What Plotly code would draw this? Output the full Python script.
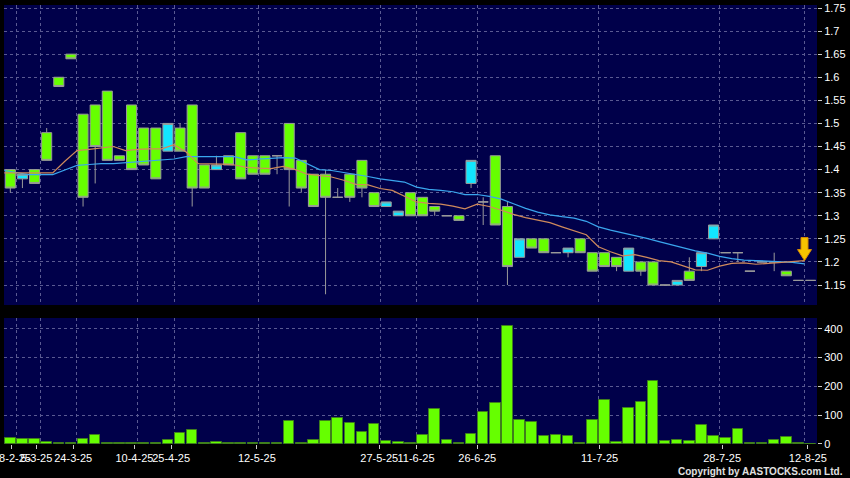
import numpy as np
import plotly.graph_objects as go

# ---------------- data ----------------
opens = [1.40, 1.38, 1.40, 1.48, 1.60, 1.65, 1.52, 1.54, 1.57, 1.43,
         1.54, 1.49, 1.49, 1.44, 1.49, 1.54, 1.41, 1.40, 1.43, 1.48,
         1.43, 1.43, 1.43, 1.50, 1.42, 1.39, 1.39, 1.34, 1.39, 1.42,
         1.35, 1.32, 1.30, 1.35, 1.34, 1.32, 1.30, 1.30, 1.37, 1.33,
         1.43, 1.32, 1.21, 1.25, 1.25, 1.22, 1.22, 1.25, 1.22, 1.22,
         1.21, 1.18, 1.20, 1.20, 1.15, 1.15, 1.18, 1.19, 1.25, 1.22,
         1.22, 1.18, 1.20, 1.20, 1.18, 1.16, 1.16]
highs = [1.40, 1.39, 1.40, 1.49, 1.60, 1.65, 1.52, 1.54, 1.57, 1.43,
         1.54, 1.49, 1.49, 1.50, 1.50, 1.54, 1.41, 1.43, 1.43, 1.48,
         1.43, 1.43, 1.43, 1.50, 1.42, 1.39, 1.40, 1.36, 1.39, 1.42,
         1.35, 1.33, 1.31, 1.35, 1.34, 1.32, 1.30, 1.30, 1.42, 1.34,
         1.43, 1.33, 1.25, 1.25, 1.25, 1.22, 1.23, 1.25, 1.22, 1.22,
         1.21, 1.23, 1.20, 1.20, 1.15, 1.16, 1.21, 1.22, 1.28, 1.22,
         1.22, 1.18, 1.20, 1.22, 1.18, 1.16, 1.16]
lows = [1.35, 1.36, 1.37, 1.42, 1.58, 1.64, 1.32, 1.37, 1.42, 1.42,
        1.40, 1.41, 1.38, 1.44, 1.44, 1.32, 1.36, 1.40, 1.41, 1.38,
        1.39, 1.39, 1.39, 1.32, 1.35, 1.32, 1.13, 1.34, 1.33, 1.34,
        1.32, 1.32, 1.30, 1.30, 1.30, 1.30, 1.30, 1.29, 1.36, 1.28,
        1.28, 1.15, 1.21, 1.23, 1.22, 1.22, 1.21, 1.22, 1.18, 1.19,
        1.18, 1.18, 1.17, 1.15, 1.15, 1.15, 1.16, 1.18, 1.25, 1.22,
        1.20, 1.18, 1.20, 1.18, 1.17, 1.16, 1.16]
closes = [1.36, 1.39, 1.37, 1.42, 1.58, 1.64, 1.34, 1.45, 1.42, 1.42,
          1.40, 1.41, 1.38, 1.50, 1.44, 1.36, 1.36, 1.41, 1.41, 1.38,
          1.39, 1.39, 1.43, 1.40, 1.36, 1.32, 1.34, 1.34, 1.34, 1.36,
          1.32, 1.33, 1.31, 1.30, 1.30, 1.31, 1.30, 1.29, 1.42, 1.33,
          1.28, 1.19, 1.25, 1.23, 1.22, 1.22, 1.23, 1.22, 1.18, 1.19,
          1.19, 1.23, 1.18, 1.15, 1.15, 1.16, 1.16, 1.22, 1.28, 1.22,
          1.22, 1.18, 1.20, 1.20, 1.17, 1.16, 1.16]
volumes = [22, 17, 16, 8, 2, 2, 16, 32, 3, 3,
           3, 5, 3, 14, 39, 47, 3, 8, 3, 5,
           3, 3, 5, 80, 3, 14, 80, 89, 72, 42,
           69, 12, 8, 3, 31, 121, 13, 4, 36, 112,
           141, 410, 82, 77, 27, 30, 28, 5, 82, 154,
           8, 124, 146, 217, 9, 13, 9, 67, 28, 22,
           52, 5, 3, 14, 25, 3, 0]
ma_short = [1.393, 1.393, 1.393, 1.393, 1.393, 1.418, 1.441, 1.444, 1.447, 1.450,
            1.441, 1.444, 1.445, 1.445, 1.454, 1.438, 1.413, 1.413, 1.412, 1.410,
            1.405, 1.403, 1.402, 1.407, 1.400, 1.390, 1.387, 1.384, 1.377, 1.368,
            1.367, 1.359, 1.355, 1.342, 1.330, 1.327, 1.325, 1.321, 1.315, 1.325,
            1.320, 1.312, 1.303, 1.296, 1.290, 1.285, 1.276, 1.267, 1.259, 1.233,
            1.222, 1.213, 1.216, 1.210, 1.203, 1.200, 1.191, 1.183, 1.182, 1.191,
            1.197, 1.198, 1.195, 1.197, 1.199, 1.202, 1.203]
ma_long = [1.398, 1.394, 1.389, 1.389, 1.389, 1.399, 1.409, 1.411, 1.413, 1.413,
           1.415, 1.417, 1.419, 1.421, 1.423, 1.428, 1.428, 1.428, 1.428, 1.428,
           1.421, 1.423, 1.424, 1.426, 1.425, 1.413, 1.400, 1.398, 1.394, 1.389,
           1.385, 1.380, 1.377, 1.373, 1.362, 1.357, 1.355, 1.352, 1.346, 1.346,
           1.342, 1.336, 1.326, 1.316, 1.308, 1.302, 1.298, 1.295, 1.288, 1.276,
           1.269, 1.263, 1.258, 1.251, 1.244, 1.237, 1.230, 1.224, 1.219, 1.212,
           1.207, 1.204, 1.203, 1.202, 1.201, 1.199, 1.196]
tick_labels = ["18-2-25", "5-3-25", "24-3-25", "10-4-25", "25-4-25", "12-5-25",
               "27-5-25", "11-6-25", "26-6-25", "11-7-25", "28-7-25", "12-8-25"]
tick_index = [1, 3, 6, 11, 14, 21, 31, 34, 39, 49, 59, 66]
price_ticks = [1.15, 1.20, 1.25, 1.30, 1.35, 1.40, 1.45, 1.50, 1.55, 1.60, 1.65, 1.70, 1.75]
volume_ticks = [0, 100, 200, 300, 400]

# ---------------- styling ----------------
NAVY = "#00004a"
GRID = "#5a5a92"
LIME = "#66ff00"
CYAN = "#12e6ff"
FONT = "Liberation Sans, Arial, sans-serif"

n = len(opens)
x_idx = np.arange(n)
x_edge = x_idx - 0.5                      # date gridlines / MA points sit on slot edge
tick_pos = [i - 0.5 for i in tick_index]
x_range = [-0.52, n - 0.47]
# the date labels/tick marks in the original sit on a very slightly stretched scale
label_range = [-0.15, n - 0.75]

fig = go.Figure()

fig.add_trace(go.Candlestick(
    x=x_idx, open=opens, high=highs, low=lows, close=closes,
    increasing=dict(fillcolor=CYAN, line=dict(color="#9a9a9a", width=1)),
    decreasing=dict(fillcolor=LIME, line=dict(color="#9a9a9a", width=1)),
    whiskerwidth=0, xaxis="x", yaxis="y", showlegend=False, hoverinfo="skip"))

fig.add_trace(go.Scatter(x=x_edge, y=ma_long, mode="lines",
                         line=dict(color="#3aa6ee", width=1.2),
                         xaxis="x", yaxis="y", showlegend=False, hoverinfo="skip"))
fig.add_trace(go.Scatter(x=x_edge, y=ma_short, mode="lines",
                         line=dict(color="#cf8a5c", width=1.2),
                         xaxis="x", yaxis="y", showlegend=False, hoverinfo="skip"))

fig.add_trace(go.Bar(x=x_idx, y=volumes, width=0.87,
                     marker=dict(color=LIME, line=dict(color="#3f7f1c", width=1)),
                     xaxis="x2", yaxis="y2", showlegend=False, hoverinfo="skip"))

# signal arrow at the last moving-average point (pixel-sized path anchored in data space)
fig.add_shape(type="path", xref="x", yref="y",
              xsizemode="pixel", ysizemode="pixel",
              xanchor=float(x_edge[-1]), yanchor=ma_short[-1],
              path="M0,0 L-7,11 L-3.5,11 L-3.5,23 L3.5,23 L3.5,11 L7,11 Z",
              fillcolor="#f6c400", line=dict(color="#d88c00", width=1), layer="above")

axis_font = dict(family=FONT, size=11, color="#ffffff")
grid_kw = dict(showgrid=True, gridcolor=GRID, griddash="3px,3px", gridwidth=1,
               zeroline=False, showline=False)

fig.update_layout(
    width=850, height=478,
    margin=dict(l=4, r=33, t=5, b=34, autoexpand=False),
    paper_bgcolor="#000000", plot_bgcolor=NAVY,
    boxgap=0.17, boxgroupgap=0,
    bargap=0,
    showlegend=False,
    xaxis=dict(domain=[0, 1], anchor="y", range=x_range,
               tickmode="array", tickvals=tick_pos, showticklabels=False, ticks="",
               rangeslider=dict(visible=False), **grid_kw),
    yaxis=dict(domain=[0.3166, 1], anchor="x", side="right", range=[1.1067, 1.7565],
               tickmode="array", tickvals=price_ticks,
               ticktext=["{:g}".format(v) for v in price_ticks],
               ticks="outside", ticklen=4, tickcolor="#cccccc",
               tickfont=axis_font, **grid_kw),
    xaxis2=dict(domain=[0, 1], anchor="y2", range=x_range,
                tickmode="array", tickvals=tick_pos, showticklabels=False, ticks="",
                **grid_kw),
    xaxis3=dict(domain=[0, 1], anchor="y2", overlaying="x2", range=label_range,
                tickmode="array", tickvals=tick_pos, ticktext=tick_labels, tickangle=0,
                ticklabeloverflow="allow", showgrid=False, zeroline=False, showline=False,
                ticks="outside", ticklen=4, tickcolor="#cccccc", tickfont=axis_font),
    yaxis2=dict(domain=[0, 0.287], anchor="x2", side="right", range=[0, 437],
                tickmode="array", tickvals=volume_ticks,
                ticktext=[str(v) for v in volume_ticks],
                ticks="outside", ticklen=4, tickcolor="#cccccc", tickfont=axis_font,
                **grid_kw),
    annotations=[dict(text="Copyright by AASTOCKS.com Ltd.", xref="paper", yref="paper",
                      x=1.0, y=0, xanchor="right", yanchor="top", yshift=-20, xshift=28,
                      showarrow=False,
                      font=dict(family=FONT, size=10, color="#e0e0e0", weight="bold"))],
)

# invisible carrier so the label axis is drawn
fig.add_trace(go.Scatter(x=[tick_pos[0]], y=[0], mode="markers", marker=dict(opacity=0),
                         xaxis="x3", yaxis="y2", showlegend=False, hoverinfo="skip"))

fig.write_html("out.html", config={"displayModeBar": False},
               post_script="document.body.style.margin='0';")
